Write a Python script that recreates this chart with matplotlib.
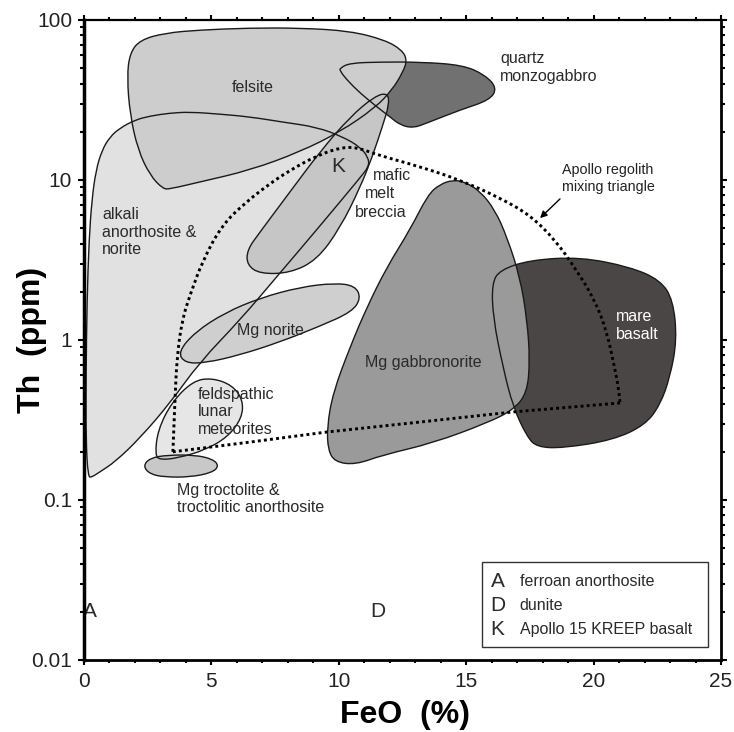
import numpy as np
import matplotlib
matplotlib.use("Agg")
import matplotlib.pyplot as plt
from matplotlib.path import Path
from matplotlib.patches import PathPatch, Rectangle
from matplotlib.ticker import FixedLocator, FixedFormatter, MultipleLocator, LogLocator, NullFormatter

plt.rcParams["font.family"] = ["Liberation Sans", "DejaVu Sans"]

# ---- field outlines, (FeO %, Th ppm) ----
alkali_feo = [0.16, 0.08, 0.08, 0.12, 0.20, 0.31, 0.47, 0.71, 1.02, 1.41, 2.00, 2.59, 3.38, 4.16,
              5.34, 6.51, 7.81, 9.14, 10.16, 10.83, 11.15, 11.19, 10.83, 9.26, 7.69, 6.12, 4.55,
              3.38, 2.20, 1.22, 0.63, 0.31]
alkali_th = [0.139, 0.237, 0.562, 1.78, 4.22, 7.5, 11.5, 15.4, 18.6, 21.1, 23.7, 25.1, 26.2, 26.6,
             25.8, 24.8, 23.0, 21.4, 18.6, 16.1, 13.9, 12.2, 10.3, 5.16, 2.62, 1.33, 0.729,
             0.404, 0.244, 0.173, 0.150, 0.139]

felsite_feo = [3.10, 2.59, 2.12, 1.81, 1.69, 1.80, 2.20, 3.18, 4.55, 6.51, 8.48, 10.44, 11.81, 12.48,
               12.68, 12.52, 12.09, 11.42, 10.05, 8.48, 6.51, 4.55, 3.38]
felsite_th = [8.79, 10.7, 15.4, 25.5, 44.1, 62.0, 75.0, 82.9, 86.6, 89.1, 89.1, 85.4, 75.0, 64.9,
              56.2, 47.3, 36.5, 28.2, 20.0, 15.0, 11.5, 9.72, 8.79]

qmg_feo = [10.05, 10.44, 11.62, 13.19, 14.87, 15.74, 16.21, 15.93, 14.76, 13.46, 12.91, 12.40,
           12.01, 11.50, 10.83, 10.32, 10.05]
qmg_th = [50.1, 53.8, 54.6, 54.6, 52.3, 45.3, 37.6, 31.6, 27.4, 22.7, 21.1, 22.1,
          24.8, 28.6, 35.0, 42.2, 48.0]

breccia_feo = [11.93, 11.97, 11.73, 11.34, 10.83, 10.05, 9.14, 8.08, 6.91, 6.40, 6.40, 6.91,
               8.08, 9.26, 10.44, 11.42]
breccia_th = [35.0, 29.4, 22.1, 14.3, 8.91, 5.01, 3.16, 2.62, 2.59, 2.94, 3.65, 4.73,
              8.41, 15.0, 24.8, 33.5]

norite_feo = [3.69, 4.36, 5.53, 6.91, 8.48, 9.85, 10.64, 10.87, 10.52, 9.26, 7.69, 6.12, 4.75, 3.96]
norite_th = [0.841, 1.12, 1.48, 1.83, 2.14, 2.27, 2.18, 1.83, 1.50, 1.22, 0.972, 0.806, 0.718, 0.718]

flm_feo = [2.79, 2.90, 3.45, 4.28, 5.02, 5.81, 6.24, 6.20, 5.65, 4.75, 3.69, 2.98]
flm_th = [0.191, 0.274, 0.410, 0.555, 0.579, 0.523, 0.422, 0.326, 0.248, 0.205, 0.183, 0.178]

troct_feo = [2.32, 2.59, 3.30, 4.36, 5.06, 5.30, 5.02, 4.16, 3.18, 2.59]
troct_th = [0.163, 0.183, 0.191, 0.191, 0.180, 0.163, 0.148, 0.139, 0.139, 0.145]

gabbro_feo = [14.48, 14.95, 15.55, 16.13, 16.60, 17.11, 17.39, 17.50, 17.39, 16.84, 15.82, 13.70,
              11.73, 10.64, 9.85, 9.58, 9.54, 9.77, 10.44, 11.11, 11.89, 12.79, 13.50, 13.97]
gabbro_th = [10.0, 9.72, 8.5, 6.49, 4.40, 2.48, 1.33, 0.75, 0.466, 0.365, 0.303, 0.227,
             0.191, 0.166, 0.173, 0.205, 0.286, 0.466, 0.903, 1.61, 2.86, 4.87, 8.1, 9.4]

mare_feo = [16.33, 17.50, 19.47, 21.43, 22.61, 23.12, 23.27, 23.00, 22.61, 22.02, 20.76, 18.80,
            17.78, 17.39, 16.84, 16.44, 16.05, 16.01]
mare_th = [2.74, 3.16, 3.30, 2.86, 2.37, 1.78, 1.0, 0.587, 0.393, 0.294, 0.237, 0.211,
           0.214, 0.248, 0.381, 0.678, 1.39, 2.27]

# Apollo regolith mixing triangle
tri_arc_feo = [3.49, 3.57, 3.65, 3.85, 4.16, 4.67, 5.42, 6.32, 7.22, 8.08, 9.18, 10.16, 10.83,
               11.42, 13.19, 14.76, 16.33, 17.50, 18.49, 19.27, 20.05, 20.53, 20.80, 20.96, 21.04]
tri_arc_th = [0.200, 0.422, 0.783, 1.33, 1.91, 3.16, 5.23, 7.18, 9.30, 11.5, 14.3, 16.1, 15.8,
              14.5, 12.1, 10.0, 7.72, 6.04, 4.22, 2.82, 1.78, 1.11, 0.698, 0.523, 0.404]
tri_base_feo = [21.04, 16.84, 13.19, 9.54, 6.51, 3.49]
tri_base_th = [0.404, 0.355, 0.307, 0.266, 0.230, 0.200]

y_ticks = [0.01, 0.1, 1, 10, 100]
y_tick_labels = ["0.01", "0.1", "1", "10", "100"]
x_ticks = [0, 5, 10, 15, 20, 25]

legend_keys = ["A", "D", "K"]
legend_names = ["ferroan anorthosite", "dunite", "Apollo 15 KREEP basalt"]


def smooth_path(xs, ys, closed=True):
    """Quadratic bezier path through segment midpoints (midpoints taken in log-Th)."""
    lx = np.asarray(xs, float)
    ly = np.log10(np.asarray(ys, float))
    n = len(lx)
    mid = lambda i, j: ((lx[i] + lx[j]) / 2, (ly[i] + ly[j]) / 2)
    verts, codes = [], []
    if closed:
        start = mid(n - 1, 0)
        verts.append(start); codes.append(Path.MOVETO)
        for i in range(n):
            verts += [(lx[i], ly[i]), mid(i, (i + 1) % n)]
            codes += [Path.CURVE3, Path.CURVE3]
        verts.append(start); codes.append(Path.CLOSEPOLY)
    else:
        verts.append((lx[0], ly[0])); codes.append(Path.MOVETO)
        for i in range(1, n - 1):
            verts += [(lx[i], ly[i]), mid(i, i + 1)]
            codes += [Path.CURVE3, Path.CURVE3]
        verts.append((lx[-1], ly[-1])); codes.append(Path.LINETO)
    v = np.array(verts)
    v[:, 1] = 10 ** v[:, 1]
    return Path(v, codes)


fig = plt.figure(figsize=(7.34, 7.32), dpi=100)
ax = fig.add_axes([0.1144, 0.0984, 0.8679, 0.8743])
ax.set_yscale("log")
ax.set_xlim(0, 25)
ax.set_ylim(0.01, 100)

fields = [
    (alkali_feo, alkali_th, "#e1e1e1"),
    (mare_feo, mare_th, "#4b4646"),
    (qmg_feo, qmg_th, "#717171"),
    (felsite_feo, felsite_th, "#cdcdcd"),
    (breccia_feo, breccia_th, "#c6c6c6"),
    (norite_feo, norite_th, "#cfcfcf"),
    (flm_feo, flm_th, "#e6e6e6"),
    (troct_feo, troct_th, "#c8c8c8"),
    (gabbro_feo, gabbro_th, "#9a9a9a"),
]
paths = [smooth_path(fx, fy) for fx, fy, _ in fields]
for p, (_, _, col) in zip(paths, fields):
    ax.add_patch(PathPatch(p, facecolor=col, edgecolor="none", zorder=1))
for p in paths:
    ax.add_patch(PathPatch(p, facecolor="none", edgecolor="#1a1a1a", lw=1.0, zorder=2))

# mixing triangle (dotted)
dot = dict(color="black", lw=2.1, linestyle=(0, (1, 1.1)), dash_capstyle="butt", zorder=4)
ax.add_patch(PathPatch(smooth_path(tri_arc_feo, tri_arc_th, closed=False), facecolor="none",
                       edgecolor="black", lw=2.1, linestyle=(0, (1, 1.1)), zorder=4))
ax.plot(tri_base_feo, tri_base_th, **dot)

# field labels
lab = dict(fontsize=11.5, color="#2a2a2a", zorder=6)
ax.text(6.63, 37.6, "felsite", ha="center", va="center", **lab)
ax.text(16.33, 50.5, "quartz\nmonzogabbro", ha="left", va="center", linespacing=1.2, **lab)
ax.text(0.71, 4.73, "alkali\nanorthosite &\nnorite", ha="left", va="center", linespacing=1.2, **lab)
ax.text(11.34, 10.6, "mafic", ha="left", va="center", **lab)
ax.text(11.03, 8.29, "melt", ha="left", va="center", **lab)
ax.text(10.64, 6.22, "breccia", ha="left", va="center", **lab)
ax.text(7.30, 1.15, "Mg norite", ha="center", va="center", **lab)
ax.text(4.47, 0.355, "feldspathic\nlunar\nmeteorites", ha="left", va="center", linespacing=1.2, **lab)
ax.text(3.65, 0.101, "Mg troctolite &\ntroctolitic anorthosite", ha="left", va="center",
        linespacing=1.2, **lab)
ax.text(13.30, 0.718, "Mg gabbronorite", ha="center", va="center", **lab)
ax.text(20.88, 1.23, "mare\nbasalt", ha="left", va="center", linespacing=1.2,
        fontsize=11.5, color="white", zorder=6)

ax.text(9.97, 12.1, "K", ha="center", va="center", fontsize=15, color="#2a2a2a", zorder=6)
ax.text(0.25, 0.02, "A", ha="center", va="center", fontsize=15, color="#2a2a2a", zorder=6)
ax.text(11.54, 0.02, "D", ha="center", va="center", fontsize=15, color="#2a2a2a", zorder=6)

ax.text(18.75, 10.2, "Apollo regolith\nmixing triangle", ha="left", va="center", fontsize=10.3,
        linespacing=1.25, color="#222222", zorder=6)
ax.annotate("", xy=(17.82, 5.62), xytext=(18.76, 7.83),
            arrowprops=dict(arrowstyle="-|>", color="black", lw=1.0, mutation_scale=10), zorder=6)

# key box
ax.add_patch(Rectangle((0.625, 0.0203), 0.355, 0.133, transform=ax.transAxes, facecolor="white",
                       edgecolor="#333333", lw=1.0, zorder=5))
for i, (k, name) in enumerate(zip(legend_keys, legend_names)):
    yy = 0.122 - i * 0.0375
    ax.text(0.649, yy, k, transform=ax.transAxes, ha="center", va="center", fontsize=15,
            color="#2a2a2a", zorder=6)
    ax.text(0.684, yy, name, transform=ax.transAxes, ha="left", va="center", fontsize=11.5,
            color="#2a2a2a", zorder=6)

# axes styling
ax.yaxis.set_major_locator(FixedLocator(y_ticks))
ax.yaxis.set_major_formatter(FixedFormatter(y_tick_labels))
ax.yaxis.set_minor_locator(LogLocator(base=10, subs=np.arange(2, 10)))
ax.yaxis.set_minor_formatter(NullFormatter())
ax.xaxis.set_major_locator(FixedLocator(x_ticks))
ax.xaxis.set_minor_locator(MultipleLocator(1))

ax.tick_params(which="both", direction="out", top=True, right=True, width=1.5, labelsize=15,
               labelcolor="#222222")
ax.tick_params(axis="y", which="major", length=4.5, pad=4)
ax.tick_params(axis="y", which="minor", length=3)
ax.tick_params(axis="x", which="major", length=3.5, pad=5)
ax.tick_params(axis="x", which="minor", length=2.5)

for side, w in [("left", 2.5), ("bottom", 2.0), ("top", 1.6), ("right", 2.0)]:
    ax.spines[side].set_linewidth(w)
    ax.spines[side].set_zorder(7)

ax.set_xlabel("FeO  (%)", fontsize=23, fontweight="bold")
ax.set_ylabel("Th  (ppm)", fontsize=23, fontweight="bold")
ax.xaxis.set_label_coords(0.504, -0.062)
ax.yaxis.set_label_coords(-0.058, 0.5)

fig.savefig("out.png", dpi=100)
